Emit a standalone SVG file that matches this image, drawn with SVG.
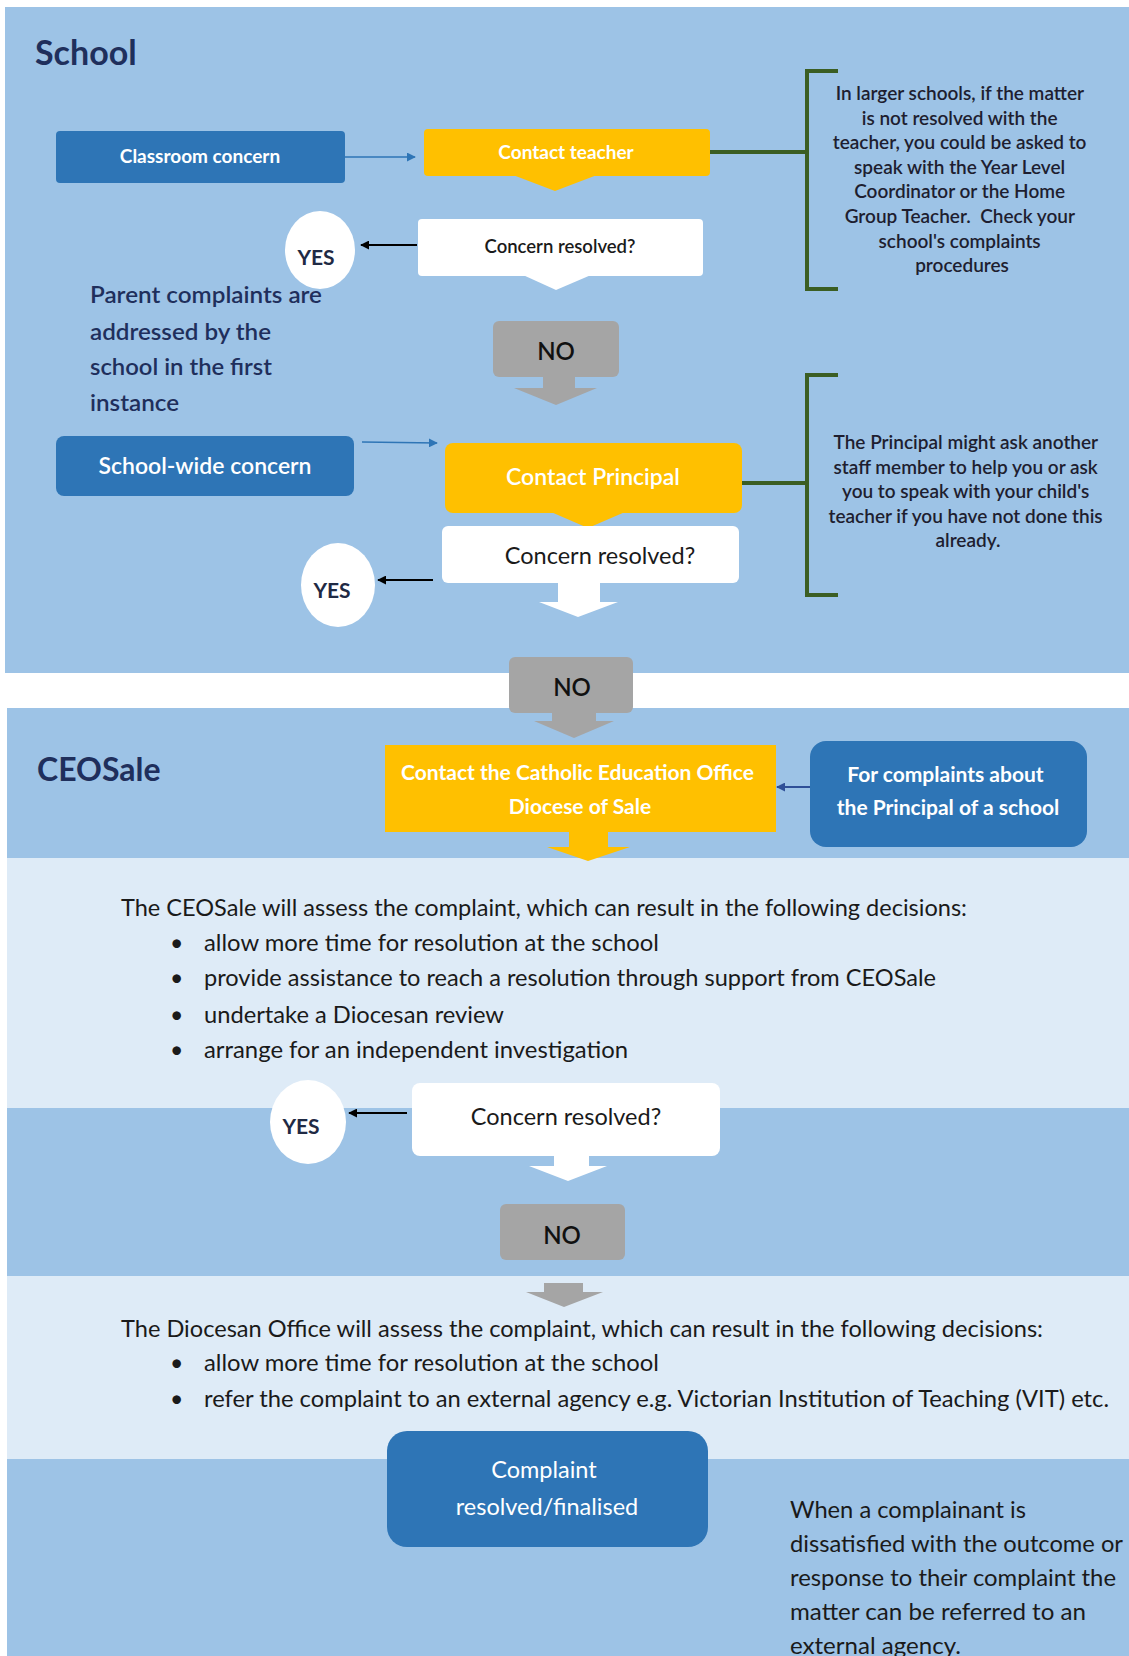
<svg xmlns="http://www.w3.org/2000/svg" width="1129" height="1656" viewBox="0 0 1129 1656">
<style>
text { font-family: Lato, "Liberation Sans", sans-serif; }
.mid { fill:#9DC3E6; }
.light { fill:#DEEBF7; }
.blue { fill:#2E75B6; }
.yellow { fill:#FFC000; }
.white { fill:#FFFFFF; }
.gray { fill:#A5A5A5; }
.wt { fill:#FFFFFF; text-anchor:middle; }
.dk { fill:#1A1A1A; }
.ctr { text-anchor:middle; }
.navy { fill:#1F2F5C; }
.bracket { fill:none; stroke:#3B5E23; stroke-width:4; }
.gline { stroke:#3B5E23; stroke-width:4; }
.note { fill:#1E1E30; font-size:19px; font-weight:600; text-anchor:middle; }
.barrow { stroke:#2E75B6; stroke-width:1.6; marker-end:url(#mBlue); }
.karrow { stroke:#000; stroke-width:2; marker-end:url(#mBlack); }
.narrow { stroke:#2F4F97; stroke-width:2; marker-end:url(#mNavy); }
.yes { fill:#1F2A44; font-size:21px; font-weight:700; text-anchor:middle; }
.no { fill:#111; font-size:24px; font-weight:600; text-anchor:middle; }
.body { fill:#1A1A1A; font-size:23px; }
.parent { fill:#1F2F5C; font-size:23.5px; font-weight:600; }
</style>
<defs>
<marker id="mBlue" viewBox="0 0 10 10" refX="9" refY="5" markerWidth="9" markerHeight="9" markerUnits="userSpaceOnUse" orient="auto"><path d="M0,0 L10,5 L0,10 z" fill="#2E75B6"/></marker>
<marker id="mBlack" viewBox="0 0 10 10" refX="9" refY="5" markerWidth="9" markerHeight="9" markerUnits="userSpaceOnUse" orient="auto"><path d="M0,0 L10,5 L0,10 z" fill="#000"/></marker>
<marker id="mNavy" viewBox="0 0 10 10" refX="9" refY="5" markerWidth="9" markerHeight="9" markerUnits="userSpaceOnUse" orient="auto"><path d="M0,0 L10,5 L0,10 z" fill="#2F4F97"/></marker>
</defs>

<rect x="0" y="0" width="1129" height="1656" fill="#FFFFFF"/>
<g id="sections">
<rect class="mid" x="5" y="7" width="1124" height="666"/>
<rect class="mid" x="7" y="708" width="1122" height="150"/>
<rect class="light" x="7" y="858" width="1122" height="250"/>
<rect class="mid" x="7" y="1108" width="1122" height="168"/>
<rect class="light" x="7" y="1276" width="1122" height="183"/>
<rect class="mid" x="7" y="1459" width="1122" height="197"/>
</g>

<g id="title-school"><text class="navy" x="35" y="65" font-size="34" font-weight="700">School</text></g>
<g id="title-ceosale"><text class="navy" x="37" y="781" font-size="32" font-weight="700">CEOSale</text></g>

<g id="connectors">
<line class="barrow" x1="345" y1="157" x2="415" y2="157"/>
<line class="barrow" x1="362" y1="442" x2="437" y2="443"/>
<line class="gline" x1="710" y1="152" x2="807" y2="152"/>
<line class="gline" x1="742" y1="483" x2="807" y2="483"/>
<line class="karrow" x1="417" y1="245" x2="361" y2="245"/>
<line class="karrow" x1="433" y1="580" x2="378" y2="580"/>
<line class="karrow" x1="407" y1="1113" x2="349" y2="1113"/>
<line class="narrow" x1="810" y1="787" x2="777" y2="787"/>
<polygon class="gray" points="543,377 575,377 575,388 597,388 556,405 514,388 543,388"/>
<polygon class="white" points="558,583 600,583 600,602 618,602 578,617 539,602 558,602"/>
<polygon class="gray" points="552,713 596,713 596,721 614,721 574,738 534,721 552,721"/>
<polygon class="yellow" points="569,832 608,832 608,847 630,847 588,861 547,847 569,847"/>
<polygon class="white" points="554,1156 589,1156 589,1166 607,1166 568,1181 529,1166 554,1166"/>
<polygon class="gray" points="544,1283 583,1283 583,1292 603,1292 564,1307 526,1292 544,1292"/>
</g>

<g id="classroom-concern">
<rect class="blue" x="56" y="131" width="289" height="52" rx="4"/>
<text class="wt" x="200" y="163" font-size="19" font-weight="700">Classroom concern</text>
</g>

<g id="contact-teacher">
<rect class="yellow" x="424" y="129" width="286" height="47" rx="4"/>
<polygon class="yellow" points="513,175 597,175 555,191"/>
<text class="wt" x="566" y="159" font-size="19" font-weight="700">Contact teacher</text>
</g>

<g id="note-teacher">
<path class="bracket" d="M838,71 H807 V289 H838"/>
<text class="note">
<tspan x="962" y="100">In larger schools, if the matter</tspan>
<tspan x="962" y="124.6">is not resolved with the</tspan>
<tspan x="962" y="149.2">teacher, you could be asked to</tspan>
<tspan x="962" y="173.8">speak with the Year Level</tspan>
<tspan x="962" y="198.4">Coordinator or the Home</tspan>
<tspan x="962" y="223">Group Teacher.&#160; Check your</tspan>
<tspan x="962" y="247.6">school's complaints</tspan>
<tspan x="962" y="272.2">procedures</tspan>
</text>
</g>

<g id="resolved-1">
<rect class="white" x="418" y="219" width="285" height="57" rx="4"/>
<polygon class="white" points="523,275 591,275 556,290"/>
<text class="dk ctr" x="560" y="253" font-size="18.5" font-weight="600">Concern resolved?</text>
</g>

<g id="yes-1">
<ellipse class="white" cx="320" cy="250" rx="35" ry="39"/>
<text class="yes" x="316" y="265">YES</text>
</g>

<g id="parent-note">
<text class="parent" x="90" y="303" textLength="232" lengthAdjust="spacingAndGlyphs">Parent complaints are</text>
<text class="parent" x="90" y="340" textLength="181" lengthAdjust="spacingAndGlyphs">addressed by the</text>
<text class="parent" x="90" y="375" textLength="182" lengthAdjust="spacingAndGlyphs">school in the first</text>
<text class="parent" x="90" y="411" textLength="89" lengthAdjust="spacingAndGlyphs">instance</text>
</g>

<g id="no-1">
<rect class="gray" x="493" y="321" width="126" height="56" rx="6"/>
<text class="no" x="556" y="360">NO</text>
</g>

<g id="school-wide-concern">
<rect class="blue" x="56" y="436" width="298" height="60" rx="8"/>
<text class="wt" x="205" y="474" font-size="23" font-weight="600">School-wide concern</text>
</g>

<g id="contact-principal">
<rect class="yellow" x="445" y="443" width="297" height="70" rx="8"/>
<polygon class="yellow" points="551,512 625,512 588,528"/>
<text class="wt" x="593" y="485" font-size="23" font-weight="600">Contact Principal</text>
</g>

<g id="note-principal">
<path class="bracket" d="M838,375 H807 V595 H838"/>
<text class="note">
<tspan x="968" y="449">The Principal might ask another</tspan>
<tspan x="968" y="473.5">staff member to help you or ask</tspan>
<tspan x="968" y="498">you to speak with your child's</tspan>
<tspan x="968" y="522.5">teacher if you have not done this</tspan>
<tspan x="968" y="547">already.</tspan>
</text>
</g>

<g id="resolved-2">
<rect class="white" x="442" y="526" width="297" height="57" rx="6"/>
<text class="dk ctr" x="600" y="564" font-size="23.5">Concern resolved?</text>
</g>

<g id="yes-2">
<ellipse class="white" cx="338" cy="585" rx="37" ry="42"/>
<text class="yes" x="332" y="598">YES</text>
</g>

<g id="no-2">
<rect class="gray" x="509" y="657" width="124" height="56" rx="6"/>
<text class="no" x="572" y="696">NO</text>
</g>

<g id="contact-ceo">
<rect class="yellow" x="385" y="745" width="391" height="87"/>
<text class="wt" font-size="21" font-weight="700">
<tspan x="580" y="780">Contact the Catholic Education Office</tspan>
<tspan x="580" y="814">Diocese of Sale</tspan>
</text>
</g>

<g id="principal-complaints">
<rect class="blue" x="810" y="741" width="277" height="106" rx="16"/>
<text class="wt" font-size="21" font-weight="700">
<tspan x="948" y="782">For complaints about</tspan>
<tspan x="948" y="815">the Principal of a school</tspan>
</text>
</g>

<g id="ceo-assessment">
<text class="body" x="121" y="916" textLength="846" lengthAdjust="spacingAndGlyphs">The CEOSale will assess the complaint, which can result in the following decisions:</text>
<text class="body" x="170" y="951">•</text><text class="body" x="204" y="951" textLength="455" lengthAdjust="spacingAndGlyphs">allow more time for resolution at the school</text>
<text class="body" x="170" y="986">•</text><text class="body" x="204" y="986" textLength="732" lengthAdjust="spacingAndGlyphs">provide assistance to reach a resolution through support from CEOSale</text>
<text class="body" x="170" y="1023">•</text><text class="body" x="204" y="1023" textLength="300" lengthAdjust="spacingAndGlyphs">undertake a Diocesan review</text>
<text class="body" x="170" y="1058">•</text><text class="body" x="204" y="1058" textLength="424" lengthAdjust="spacingAndGlyphs">arrange for an independent investigation</text>
</g>

<g id="resolved-3">
<rect class="white" x="412" y="1083" width="308" height="73" rx="8"/>
<text class="dk ctr" x="566" y="1125" font-size="23.5">Concern resolved?</text>
</g>

<g id="yes-3">
<ellipse class="white" cx="308" cy="1122" rx="38" ry="42"/>
<text class="yes" x="301" y="1134">YES</text>
</g>

<g id="no-3">
<rect class="gray" x="500" y="1204" width="125" height="56" rx="6"/>
<text class="no" x="562" y="1244">NO</text>
</g>

<g id="diocesan-assessment">
<text class="body" x="121" y="1337" textLength="922" lengthAdjust="spacingAndGlyphs">The Diocesan Office will assess the complaint, which can result in the following decisions:</text>
<text class="body" x="170" y="1371">•</text><text class="body" x="204" y="1371" textLength="455" lengthAdjust="spacingAndGlyphs">allow more time for resolution at the school</text>
<text class="body" x="170" y="1407">•</text><text class="body" x="204" y="1407" textLength="905" lengthAdjust="spacingAndGlyphs">refer the complaint to an external agency e.g. Victorian Institution of Teaching (VIT) etc.</text>
</g>

<g id="complaint-resolved">
<rect class="blue" x="387" y="1431" width="321" height="116" rx="20"/>
<text class="wt" font-size="23.5">
<tspan x="547" y="1478">Complaint</tspan>
<tspan x="547" y="1515">resolved/finalised</tspan>
</text>
</g>

<g id="external-note">
<text class="body" font-size="23.5" x="790" y="1518" textLength="236" lengthAdjust="spacingAndGlyphs">When a complainant is</text>
<text class="body" font-size="23.5" x="790" y="1552" textLength="333" lengthAdjust="spacingAndGlyphs">dissatisfied with the outcome or</text>
<text class="body" font-size="23.5" x="790" y="1586" textLength="326" lengthAdjust="spacingAndGlyphs">response to their complaint the</text>
<text class="body" font-size="23.5" x="790" y="1620" textLength="296" lengthAdjust="spacingAndGlyphs">matter can be referred to an</text>
<text class="body" font-size="23.5" x="790" y="1654" textLength="171" lengthAdjust="spacingAndGlyphs">external agency.</text>
</g>
</svg>
